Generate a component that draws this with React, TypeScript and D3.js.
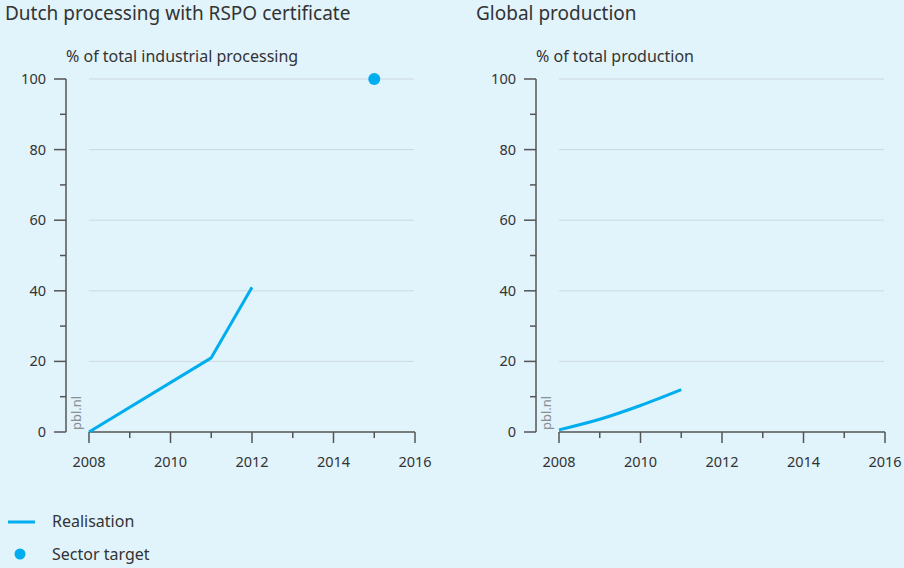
import React from "react";
import * as d3 from "d3";

const W = 904;
const H = 568;

const leftYears = [2008, 2011, 2012];
const leftValues = [0, 21, 41];
const targetYears = [2015];
const targetValues = [100];

const rightYears = [2008, 2009, 2010, 2011];
const rightValues = [0.6, 3.6, 7.5, 12];

const xMajorTicks = [2008, 2010, 2012, 2014, 2016];
const xMinorTicks = [2009, 2011, 2013, 2015];
const yMajorTicks = [0, 20, 40, 60, 80, 100];
const yMinorTicks = [10, 30, 50, 70, 90];

const BG = "#e1f3fb";
const BLUE = "#00aeef";
const TEXT = "#333333";
const AXIS = "#555555";
const GRID = "#cdd9df";
const FONT = "'Noto Sans', 'Open Sans', sans-serif";

type PanelProps = {
  title: string;
  subtitle: string;
  titleX: number;
  axisX: number;
  x0: number;
  x1: number;
  years: number[];
  values: number[];
  smooth?: boolean;
  tYears?: number[];
  tValues?: number[];
};

function Panel(p: PanelProps) {
  const x = d3.scaleLinear().domain([2008, 2016]).range([p.x0, p.x1]);
  const y = d3.scaleLinear().domain([0, 100]).range([432, 79]);
  const line = d3
    .line<number>()
    .x((_, i) => x(p.years[i]))
    .y((v) => y(v))
    .curve(p.smooth ? d3.curveMonotoneX : d3.curveLinear);
  return (
    <g>
      <text x={p.titleX} y={20} fontSize={19} fill={TEXT} fontFamily={FONT}>
        {p.title}
      </text>
      <text x={p.axisX} y={62} fontSize={16} fill={TEXT} fontFamily={FONT}>
        {p.subtitle}
      </text>
      {yMajorTicks
        .filter((t) => t > 0)
        .map((t) => (
          <line key={"g" + t} x1={p.x0} x2={p.x1 - 1} y1={y(t)} y2={y(t)} stroke={GRID} strokeWidth={1} />
        ))}
      <line x1={p.axisX} x2={p.axisX} y1={y(100)} y2={y(0)} stroke={AXIS} strokeWidth={1.5} />
      {yMajorTicks.map((t) => (
        <g key={"y" + t}>
          <line x1={p.axisX - 12} x2={p.axisX} y1={y(t)} y2={y(t)} stroke={AXIS} strokeWidth={1.5} />
          <text x={p.axisX - 20} y={y(t) + 5} fontSize={14.5} fill={TEXT} textAnchor="end" fontFamily={FONT}>
            {t}
          </text>
        </g>
      ))}
      {yMinorTicks.map((t) => (
        <line key={"ym" + t} x1={p.axisX - 6} x2={p.axisX} y1={y(t)} y2={y(t)} stroke={AXIS} strokeWidth={1.5} />
      ))}
      <line x1={p.x0} x2={p.x1} y1={y(0)} y2={y(0)} stroke={AXIS} strokeWidth={1.5} />
      {xMajorTicks.map((t) => (
        <g key={"x" + t}>
          <line x1={x(t)} x2={x(t)} y1={y(0)} y2={y(0) + 11} stroke={AXIS} strokeWidth={1.5} />
          <text x={x(t)} y={467} fontSize={14.5} fill={TEXT} textAnchor="middle" fontFamily={FONT}>
            {t}
          </text>
        </g>
      ))}
      {xMinorTicks.map((t) => (
        <line key={"xm" + t} x1={x(t)} x2={x(t)} y1={y(0)} y2={y(0) + 6} stroke={AXIS} strokeWidth={1.5} />
      ))}
      <text
        transform={`translate(${p.axisX + 15},${y(0) - 2}) rotate(-90)`}
        fontSize={13}
        fill="#8a8f93"
        fontFamily={FONT}
      >
        pbl.nl
      </text>
      <path d={line(p.values) || ""} fill="none" stroke={BLUE} strokeWidth={3} strokeLinejoin="round" />
      {(p.tValues || []).map((v, i) => (
        <circle key={"t" + i} cx={x((p.tYears as number[])[i])} cy={y(v)} r={6} fill={BLUE} />
      ))}
    </g>
  );
}

export default function App() {
  return (
    <div style={{ position: "fixed", left: 0, top: 0, width: W, height: H }}>
      <svg width={W} height={H} style={{ display: "block", background: BG }}>
        <rect x={0} y={0} width={W} height={H} fill={BG} />
        <Panel
          title="Dutch processing with RSPO certificate"
          subtitle="% of total industrial processing"
          titleX={5}
          axisX={66}
          x0={89}
          x1={415}
          years={leftYears}
          values={leftValues}
          tYears={targetYears}
          tValues={targetValues}
        />
        <Panel
          title="Global production"
          subtitle="% of total production"
          titleX={476}
          axisX={536}
          x0={559}
          x1={885}
          years={rightYears}
          values={rightValues}
          smooth
        />
        <line x1={8} x2={35} y1={522} y2={522} stroke={BLUE} strokeWidth={3} />
        <text x={52} y={527} fontSize={16} fill={TEXT} fontFamily={FONT}>
          Realisation
        </text>
        <circle cx={20} cy={554} r={5.5} fill={BLUE} />
        <text x={52} y={560} fontSize={16} fill={TEXT} fontFamily={FONT}>
          Sector target
        </text>
      </svg>
    </div>
  );
}
